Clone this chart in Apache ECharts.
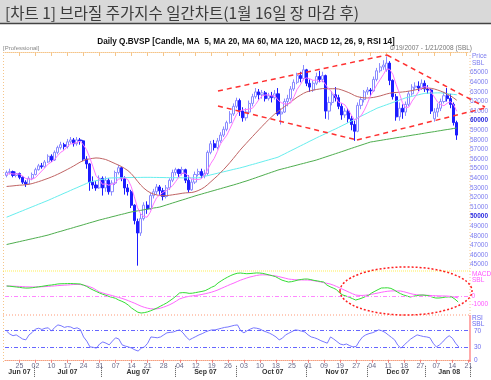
<!DOCTYPE html>
<html><head><meta charset="utf-8">
<script src="https://cdn.jsdelivr.net/npm/echarts/dist/echarts.min.js"></script>
<style>html,body{margin:0;padding:0;background:#fff}#c{width:491px;height:380px}</style>
</head><body><div id="c"></div>
<script>
// ---- calendar (trading days, B3 holidays excluded) ----
const startDate = [2007, 5, 19];
const endDate = [2008, 0, 21];
const holidays = ['2007-07-09','2007-09-07','2007-10-12','2007-11-02','2007-11-15','2007-11-20','2007-12-24','2007-12-25','2007-12-31','2008-01-01'];
const monthNames = ['Jan','Feb','Mar','Apr','May','Jun','Jul','Aug','Sep','Oct','Nov','Dec'];

// ---- price data ----
const opens = [54300,54600,54700,54300,54500,54100,53600,53400,54000,54400,
54900,55300,55200,55700,56300,55900,56700,57200,57500,57300,
57800,58000,57600,58000,57900,56000,55500,53600,53300,53000,
54000,53000,53800,52600,53500,54600,55100,54000,53000,52600,
51200,49500,48300,49800,51200,50800,52200,52600,53100,52700,
52100,53000,53800,54600,54900,54500,54900,53800,52800,53600,
54400,54700,54300,54500,56700,57600,57200,57900,58500,59100,
59800,60700,61500,62100,61000,60300,60900,61800,62500,63000,
62700,62900,62300,62600,62400,62800,60700,60900,62000,62300,
63300,64000,64700,64400,65300,63900,63200,63900,64600,64300,
64700,61000,61900,62700,62400,61500,60600,61000,60200,59600,
58900,61600,62200,63000,63200,63100,64300,65200,65600,65300,
66000,64200,62500,60400,61300,60900,61700,62800,63500,63600,
63400,63900,63300,63200,60200,60900,61300,62000,62600,62300,
61700,59800];
const closes = [54600,54700,54300,54500,54100,53600,53400,54000,54400,54900,
55300,55200,55700,56300,55900,56700,57200,57500,57300,57800,
58000,57600,58000,57900,56000,55500,53600,53300,53000,54000,
53000,53800,52600,53500,54600,55100,54000,53000,52600,51200,
49600,48300,49800,51200,50800,52200,52600,53100,52700,52100,
53000,53800,54600,54900,54500,54900,53800,52800,53600,54400,
54700,54300,54500,56700,57600,57200,57900,58500,59100,59800,
60700,61500,62100,61000,60300,60900,61800,62500,63000,62700,
62900,62300,62600,62400,62800,60700,60900,62000,62300,63300,
64000,64700,64400,65300,63900,63500,63900,64600,64300,64700,
61000,61900,62700,62400,61500,60600,61000,60200,59600,58900,
61600,62200,63000,63200,63100,64300,65200,65600,65800,66000,
64200,62500,60400,61300,60900,61700,62800,63500,63600,63400,
63900,63300,63200,61000,60900,61300,62000,62600,62300,61700,
59800,58500];
const highs = [54800,55000,54800,54700,54600,54200,53800,54200,54600,55100,
55500,55600,55900,56500,56500,56900,57400,57800,57700,58100,
58300,58200,58300,58200,58000,56300,55600,54200,53700,54300,
54200,54200,54000,53800,54800,55400,55200,54200,53400,52800,
51300,49800,50300,51500,51600,52500,52900,53400,53300,53000,
53300,54000,54900,55100,55000,55200,55000,54300,53900,54700,
55000,55000,54900,56900,57900,58000,58200,58800,59400,60000,
61000,61800,62400,62300,61400,61300,62100,62800,63400,63300,
63200,63100,62900,63000,63200,63400,61300,62300,62700,63600,
64300,65000,65100,65800,65400,64300,64200,65000,65200,65100,
64800,62500,63100,63500,62700,61800,61300,61300,60500,60000,
61900,62500,63200,63500,63400,64600,65500,66000,66300,66700,
66200,64300,62800,61900,61700,62000,63100,63800,64000,64100,
64300,64200,63700,63300,61300,61800,62300,63000,63400,62800,
61900,60000];
const lows = [54100,54400,54100,54100,53900,53400,53100,53300,53800,54300,
54800,55000,55100,55600,55700,55800,56500,57000,57000,57100,
57600,57300,57400,57500,55800,55000,52700,52900,52700,52900,
52200,52600,52300,52200,53300,54400,53700,52300,52200,50900,
49200,44900,48000,49600,50300,50700,51900,52300,52200,51700,
51900,52800,53600,54300,54100,54300,53500,52500,52700,53400,
54200,54000,54000,54300,56500,56900,57000,57700,58300,58900,
59700,60500,61300,60500,59900,60000,60700,61500,62300,62200,
62300,62000,62100,61900,62200,60500,59600,60800,61500,62100,
63100,63800,64000,64200,63600,63000,63000,63700,64000,64000,
60200,60100,61600,62000,61200,60100,60300,59800,59000,57900,
58800,61200,61900,62700,62600,63000,64100,65000,65300,65100,
63700,62200,60000,60000,60200,60500,61500,62600,63200,63100,
63200,63000,62800,60700,59900,60400,61000,61800,62000,61300,
59500,58000];

// ---- moving averages ----
const ma5 = [54400,54500,54450,54450,54440,54240,53980,53920,53900,54060,
54400,54760,55100,55480,55680,55960,56360,56720,56920,57300,
57560,57640,57740,57860,57500,57000,56200,55260,54280,53880,
53380,53420,53280,53380,53500,53920,53960,54040,53860,53180,
52080,50940,50300,50020,49940,50460,51320,51980,52280,52540,
52700,52940,53240,53680,54160,54540,54540,54180,53920,53900,
53860,53960,54300,54920,55560,56060,56780,57580,58060,58500,
59200,59920,60640,61020,61120,61160,61220,61300,61700,62180,
62580,62680,62700,62580,62600,62160,61880,61760,61740,61840,
62500,63260,63740,64340,64460,64360,64200,64240,64040,64200,
63700,63300,62920,62540,61900,61820,61640,61140,60580,60060,
60260,60500,61060,61780,62620,63160,63760,64280,64800,65380,
65360,64820,63780,62880,61860,61360,61420,62040,62500,63000,
63440,63540,63480,62960,62460,61940,61680,61560,61820,61980,
61680,60980];
const ma20 = [53150,53180,53210,53250,53280,53300,53330,53380,53450,53550,
53650,53760,53880,54000,54130,54270,54420,54580,54750,54920,
55100,55280,55480,55680,55830,55960,56020,56080,56120,56100,
56040,55960,55830,55680,55530,55380,55220,55020,54800,54500,
54120,53700,53300,52970,52700,52500,52360,52270,52200,52180,
52200,52230,52280,52330,52380,52440,52480,52500,52520,52600,
52720,52880,53080,53350,53650,53950,54250,54580,54920,55280,
55660,56060,56470,56880,57260,57620,57980,58340,58700,59050,
59400,59750,60080,60400,60700,60950,61200,61450,61700,61950,
62200,62450,62650,62850,63000,63100,63180,63250,63300,63350,
63330,63320,63330,63330,63300,63200,63080,62950,62800,62620,
62500,62420,62380,62370,62390,62430,62500,62580,62680,62780,
62860,62920,62940,62960,62990,63030,63080,63140,63210,63280,
63340,63380,63400,63370,63300,63200,63080,62940,62780,62600,
62380,62130];
const ma60 = [49950,50080,50220,50350,50490,50620,50760,50890,51030,51160,
51300,51430,51570,51700,51850,52000,52140,52290,52440,52580,
52730,52880,53020,53170,53310,53460,53600,53680,53750,53820,
53890,53960,54030,54040,54050,54060,54070,54070,54080,54080,
54090,54090,54090,54100,54100,54100,54090,54090,54080,54080,
54070,54070,54060,54060,54060,54050,54050,54050,54050,54050,
54050,54120,54200,54280,54360,54440,54520,54600,54680,54760,
54840,54920,55000,55070,55160,55250,55350,55440,55530,55630,
55720,55820,55910,56010,56100,56200,56370,56530,56700,56870,
57030,57200,57370,57530,57700,57870,58030,58200,58360,58510,
58670,58830,58990,59140,59300,59470,59630,59800,59970,60130,
60300,60470,60630,60800,60970,61130,61300,61420,61540,61660,
61780,61900,62020,62140,62260,62380,62460,62540,62620,62700,
62780,62850,62870,62880,62890,62900,62900,62860,62820,62780,
62740,62700];
const ma120 = [47100,47180,47250,47330,47400,47480,47550,47630,47700,47780,
47850,47930,48010,48090,48190,48290,48390,48480,48580,48680,
48770,48870,48970,49060,49160,49260,49360,49450,49550,49650,
49730,49820,49900,49990,50070,50160,50240,50320,50410,50490,
50550,50610,50660,50720,50780,50840,50900,50950,51010,51110,
51220,51320,51430,51530,51640,51740,51840,51950,52050,52160,
52260,52350,52450,52540,52640,52730,52830,52920,53020,53110,
53210,53300,53400,53500,53610,53710,53820,53940,54050,54170,
54280,54400,54510,54630,54740,54860,54950,55030,55120,55210,
55290,55380,55470,55550,55640,55730,55810,55900,56010,56120,
56230,56340,56450,56560,56670,56780,56890,57010,57120,57230,
57340,57450,57560,57670,57780,57830,57890,57940,58000,58050,
58110,58160,58220,58270,58320,58380,58430,58490,58540,58590,
58650,58700,58760,58810,58860,58920,58970,59030,59080,59130,
59190,59240];

// ---- MACD 12,26,9 ----
const macd = [1400,1370,1320,1270,1220,1160,1120,1130,1170,1230,
1290,1350,1420,1490,1530,1600,1670,1700,1710,1720,
1730,1710,1690,1670,1520,1340,1080,870,670,470,
300,160,0,-120,-240,-470,-640,-850,-1150,-1530,
-1820,-2100,-2200,-2150,-2050,-1900,-1720,-1530,-1300,-1080,
-850,-560,-260,100,470,520,500,420,440,520,
600,680,780,1000,1230,1420,1800,2080,2350,2580,
2800,2970,3100,3130,3080,3040,3060,3100,3140,3130,
3080,2980,2870,2760,2640,2400,2180,2050,1930,1980,
2080,2200,2270,2330,2330,2250,2150,2080,2000,1930,
1530,1300,1120,920,470,200,60,-100,-280,-470,
-350,-200,-20,150,470,700,920,1130,1150,1160,
1080,870,600,380,200,60,-70,30,120,180,
200,150,80,-100,-200,-200,-150,-80,-50,-70,
-350,-730];
const signal = [1400,1390,1380,1360,1340,1320,1290,1280,1270,1270,
1280,1300,1320,1350,1380,1410,1450,1480,1510,1530,
1570,1600,1610,1590,1530,1420,1290,1120,860,600,
470,340,230,120,0,-120,-250,-390,-560,-730,
-900,-1100,-1290,-1440,-1560,-1640,-1670,-1640,-1560,-1420,
-1260,-1080,-860,-600,-330,-180,-60,20,80,140,
200,280,370,470,580,720,880,1070,1260,1450,
1630,1800,1990,2170,2320,2470,2600,2700,2800,2870,
2890,2880,2850,2800,2740,2650,2550,2440,2330,2280,
2240,2220,2210,2200,2200,2160,2100,2020,1940,1850,
1760,1670,1520,1340,1150,950,760,560,370,200,
150,140,170,230,300,380,470,560,640,700,
740,750,740,730,640,520,400,300,240,200,
180,170,150,120,100,80,70,70,40,0,
-80,-200];

// ---- RSI 14 ----
const rsi = [69,62,58,60,55,50,48,60,66,74,
76,73,76,77,69,78,84,82,78,80,
79,75,77,73,55,45,31,30,28,38,
43,40,36,45,53,50,36,33,31,28,
24,21,28,31,40,55,54,53,55,60,
65,66,67,70,72,65,55,48,52,56,
60,63,67,70,72,72,74,76,78,79,
81,83,84,70,65,70,74,77,76,74,
70,67,64,60,55,48,52,60,64,68,
72,71,69,67,60,55,53,50,46,43,
40,55,50,44,38,36,38,34,31,32,
45,55,60,63,65,68,72,70,66,60,
54,48,35,28,36,43,50,55,60,58,
56,55,53,40,31,36,43,52,58,52,
40,31];

const rsiLevels = [70, 30];
const macdLabels = [0, -1000];
const priceLabelRange = [45000, 65000];

// ---- build categories ----
function buildDates() {
  const out = [];
  const d = new Date(Date.UTC(startDate[0], startDate[1], startDate[2]));
  const end = Date.UTC(endDate[0], endDate[1], endDate[2]);
  while (d.getTime() <= end) {
    const wd = d.getUTCDay();
    const s = d.toISOString().slice(0, 10);
    if (wd !== 0 && wd !== 6 && holidays.indexOf(s) < 0) out.push(s);
    d.setUTCDate(d.getUTCDate() + 1);
  }
  return out;
}
const dates = buildDates();
const monthStarts = [], monthMids = {};
(function () {
  let cur = null, first = 0;
  const groups = [];
  dates.forEach((s, i) => {
    const m = s.slice(0, 7);
    if (m !== cur) { if (cur) groups.push([cur, first, i - 1]); cur = m; first = i; if (i > 0) monthStarts.push(i); }
  });
  groups.push([cur, first, dates.length - 1]);
  groups.forEach(g => {
    const mid = Math.round((g[1] + g[2]) / 2);
    const y = g[0].slice(2, 4), mo = parseInt(g[0].slice(5, 7), 10) - 1;
    monthMids[mid] = monthNames[mo] + ' ' + y;
  });
})();
const dayTick = (i) => i % 5 === 4;
const candles = opens.map((o, i) => [o, closes[i], lows[i], highs[i]]);

// ---- annotations (decoration) ----
const G = [];
function ln(x1, y1, x2, y2, stroke, dash, w, z) {
  G.push({ type: 'line', shape: { x1, y1, x2, y2 }, style: { stroke, lineWidth: w || 1, lineDash: dash || null }, z: z || 50, silent: true });
}
function tx(x, y, t, font, fill, align, z) {
  G.push({ type: 'text', x, y, style: { text: t, font, fill, align: align || 'left', verticalAlign: 'middle' }, z: z || 60, silent: true });
}
G.push({ type: 'rect', shape: { x: 0, y: 0, width: 491, height: 23 }, style: { fill: '#d9d9d9' }, z: 1, silent: true });
ln(0, 23.5, 491, 23.5, '#444', null, 1.5, 2);
tx(5, 13, '[차트 1] 브라질 주가지수 일간차트(1월 16일 장 마감 후)', '15.5px "Noto Sans CJK KR"', '#3a3a3a');
tx(246, 41.5, 'Daily Q.BVSP [Candle, MA  5, MA 20, MA 60, MA 120, MACD 12, 26, 9, RSI 14]', 'bold 8.2px "Liberation Sans"', '#111', 'center');
tx(3, 48.5, '[Professional]', '6px "Liberation Sans"', '#888');
tx(472, 48.5, '6/19/2007 - 1/21/2008 (SBL)', '6.5px "Liberation Sans"', '#777', 'right');
tx(472, 56, 'Price', '6.5px "Liberation Sans"', '#7b7bef');
tx(472, 63, 'SBL', '6.5px "Liberation Sans"', '#7b7bef');
tx(472, 274.5, 'MACD', '6.5px "Liberation Sans"', '#ff55ff');
tx(472, 280.5, 'SBL', '6.5px "Liberation Sans"', '#ff55ff');
tx(472, 318, 'RSI', '6.5px "Liberation Sans"', '#6b6bef');
tx(472, 324, 'SBL', '6.5px "Liberation Sans"', '#6b6bef');
ln(3.5, 52, 3.5, 362, '#f5c58a', [1, 2]);
ln(470, 52, 470, 315, '#f5c58a', [1, 2]);
ln(3, 271, 470, 271, '#ffee55', [1, 1]);
ln(3, 315, 470, 315, '#ff9977', [1, 2]);
ln(470, 315, 470, 362, '#ff5555', null, 1);
// trend lines + ellipse
ln(218, 91, 387, 55, '#ff3030', [5, 4], 1.5, 100);
ln(218, 106, 357, 140, '#ff3030', [5, 4], 1.5, 100);
ln(387, 55, 485, 107, '#ff3030', [5, 4], 1.5, 100);
ln(357, 140, 485, 108, '#ff3030', [5, 4], 1.5, 100);
G.push({ type: 'ellipse', shape: { cx: 406, cy: 291, rx: 66, ry: 24 }, style: { fill: null, stroke: '#ff2020', lineWidth: 1.5, lineDash: [2, 2] }, z: 100, silent: true });

const font = '"Liberation Sans"';
const near = (v, list) => list.some(t => Math.abs(v - t) < 1e-6);
const chart = echarts.init(document.getElementById('c'), null, { renderer: 'canvas' });
chart.setOption({
  animation: false,
  backgroundColor: '#fff',
  grid: [
    { left: 5, right: 21, top: 43.9, height: 230.4 },
    { left: 5, right: 21, top: 266.5, height: 52.5 },
    { left: 5, right: 21, top: 316.2, height: 45.65 }
  ],
  xAxis: [
    { type: 'category', gridIndex: 0, data: dates, position: 'top', offset: -8.1, boundaryGap: true,
      axisLine: { show: true, lineStyle: { color: '#f5c58a', type: 'dotted' } },
      axisTick: { show: true, inside: true, length: 4, interval: dayTick, alignWithLabel: true, lineStyle: { color: '#f5c58a' } },
      axisLabel: { show: false }, splitLine: { show: false } },
    { type: 'category', gridIndex: 1, data: dates, show: false },
    { type: 'category', gridIndex: 2, data: dates, position: 'bottom', boundaryGap: true,
      axisLine: { show: true, lineStyle: { color: '#f5a080', type: 'dotted' } },
      axisTick: { show: true, length: 3, interval: dayTick, alignWithLabel: true, lineStyle: { color: '#f08080' } },
      axisLabel: { interval: dayTick, formatter: (v) => v.slice(8, 10), fontSize: 7, fontFamily: font, color: '#6a6a8a', margin: 1 } },
    { type: 'category', gridIndex: 2, data: dates, position: 'bottom', offset: 4, boundaryGap: true,
      axisLine: { show: false },
      axisTick: { show: true, length: 11, interval: (i) => monthStarts.indexOf(i) >= 0, lineStyle: { color: '#555', type: 'dotted' } },
      axisLabel: { interval: (i) => monthMids[i] !== undefined, formatter: (v, i) => monthMids[i] || '', fontSize: 7, fontWeight: 'bold', fontFamily: font, color: '#333', margin: 3 } }
  ],
  yAxis: [
    { type: 'value', gridIndex: 0, position: 'right', min: 44000, max: 68000, interval: 1000,
      splitLine: { show: false }, axisLine: { show: false }, axisTick: { show: false },
      axisLabel: { margin: 2, fontSize: 6.5, fontFamily: font, color: '#7b7bef', hideOverlap: false,
        formatter: (v) => (v < priceLabelRange[0] || v > priceLabelRange[1]) ? '' : (v % 10000 === 0 ? '{b|' + v + '}' : String(v)),
        rich: { b: { fontWeight: 'bold', color: '#2a2ae0', fontSize: 6.5, fontFamily: font } } } },
    { type: 'value', gridIndex: 1, position: 'right', min: -3000, max: 4000, interval: 1000,
      splitLine: { show: false }, axisLine: { show: false }, axisTick: { show: false },
      axisLabel: { show: true, hideOverlap: false, lineHeight: 6, margin: 2, fontSize: 6.5, fontFamily: font, color: '#ff55ff',
        formatter: (v) => near(v, macdLabels) ? String(Math.round(v)) : '' } },
    { type: 'value', gridIndex: 2, position: 'right', min: -5, max: 105, interval: 5,
      splitLine: { show: false }, axisLine: { show: false }, axisTick: { show: false },
      axisLabel: { margin: 4, hideOverlap: false, fontSize: 6.5, fontFamily: font, color: '#6b6bef', formatter: (v) => near(v, [0].concat(rsiLevels)) ? String(Math.round(v)) : '' } }
  ],
  series: [
    { type: 'candlestick', xAxisIndex: 0, yAxisIndex: 0, data: candles, barWidth: 2.6,
      itemStyle: { color: '#ffffff', color0: '#1c1cff', borderColor: '#8a8aff', borderColor0: '#1c1cff', borderWidth: 1 } },
    { type: 'line', xAxisIndex: 0, yAxisIndex: 0, data: ma120, showSymbol: false, lineStyle: { color: '#4fae4f', width: 1 } },
    { type: 'line', xAxisIndex: 0, yAxisIndex: 0, data: ma60, showSymbol: false, lineStyle: { color: '#66eeee', width: 1 } },
    { type: 'line', xAxisIndex: 0, yAxisIndex: 0, data: ma20, showSymbol: false, lineStyle: { color: '#c06464', width: 1 } },
    { type: 'line', xAxisIndex: 0, yAxisIndex: 0, data: ma5, showSymbol: false, lineStyle: { color: '#ff77ff', width: 1 } },
    { type: 'line', xAxisIndex: 1, yAxisIndex: 1, data: signal, showSymbol: false, lineStyle: { color: '#ff66ff', width: 1 },
      markLine: { silent: true, symbol: 'none', label: { show: false }, lineStyle: { color: '#ff88ff', type: [4, 2, 1, 2], width: 1 }, data: [{ yAxis: 0 }] } },
    { type: 'line', xAxisIndex: 1, yAxisIndex: 1, data: macd, showSymbol: false, lineStyle: { color: '#33dd33', width: 1 } },
    { type: 'line', xAxisIndex: 2, yAxisIndex: 2, data: rsi, showSymbol: false, lineStyle: { color: '#7777ff', width: 1 },
      markLine: { silent: true, symbol: 'none', label: { show: false }, lineStyle: { color: '#6666ff', type: [4, 2, 1, 2], width: 1 }, data: rsiLevels.map(v => ({ yAxis: v })) } }
  ],
  graphic: { elements: G }
});
</script>
</body></html>
